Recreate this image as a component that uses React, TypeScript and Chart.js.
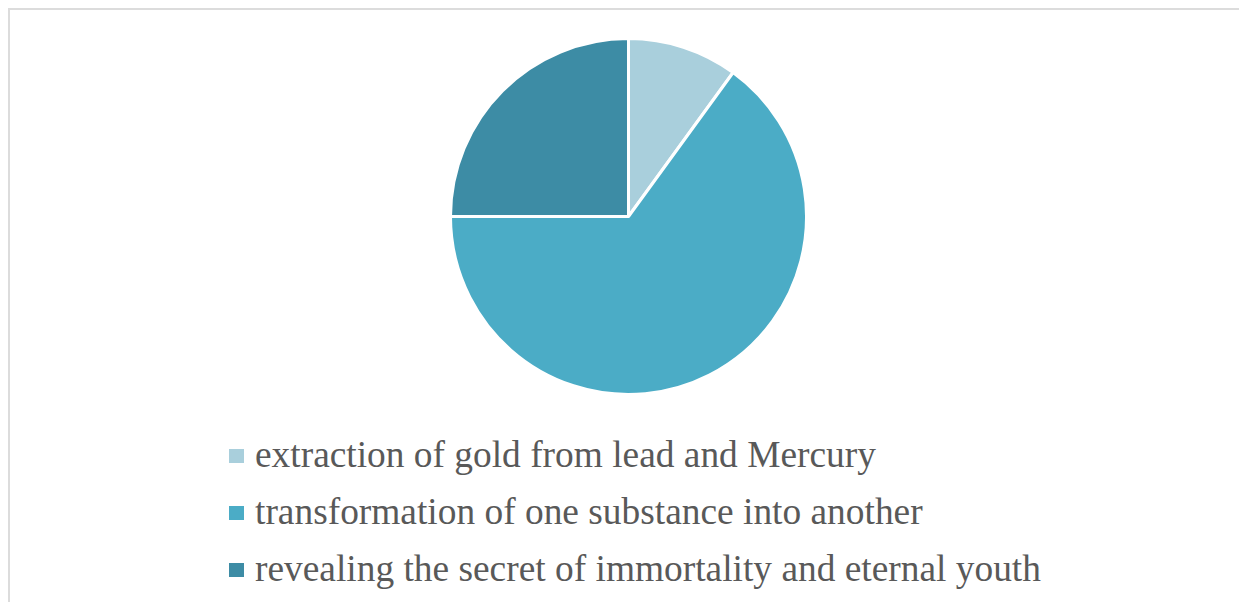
import React, { useEffect, useRef } from "react";
import { Chart, registerables } from "chart.js";

Chart.register(...registerables);

const categories = [
  "extraction of gold from lead and Mercury",
  "transformation of one substance into another",
  "revealing the secret of immortality and eternal youth",
];
const values = [10, 65, 25];
const colors = ["#A9CFDC", "#4BACC6", "#3D8CA5"];

export default function App() {
  const ref = useRef<HTMLCanvasElement | null>(null);

  useEffect(() => {
    document.body.style.margin = "0";
    document.body.style.overflow = "hidden";
    if (!ref.current) return;
    const chart = new Chart(ref.current, {
      type: "pie",
      data: {
        labels: categories,
        datasets: [
          {
            data: values,
            backgroundColor: colors,
            borderColor: "#ffffff",
            borderWidth: 3,
          },
        ],
      },
      options: {
        animation: false,
        responsive: false,
        maintainAspectRatio: false,
        layout: { padding: 0 },
        plugins: {
          legend: { display: false },
          tooltip: { enabled: false },
        },
      },
    });
    return () => chart.destroy();
  }, []);

  return (
    <div
      style={{
        position: "fixed",
        left: 0,
        top: 0,
        width: 1239,
        height: 602,
        overflow: "hidden",
        background: "#fff",
      }}
    >
      <div
        style={{
          position: "absolute",
          left: 8,
          top: 8,
          width: 1300,
          height: 700,
          border: "2px solid #dcdcdc",
          boxSizing: "border-box",
        }}
      />
      <canvas
        ref={ref}
        width={359}
        height={359}
        style={{ position: "absolute", left: 449, top: 37, width: 359, height: 359 }}
      />
      {categories.map((c, i) => (
        <div
          key={c}
          style={{
            position: "absolute",
            left: 229,
            top: 430 + i * 57,
            height: 50,
            display: "flex",
            alignItems: "center",
            whiteSpace: "nowrap",
          }}
        >
          <span
            style={{
              display: "inline-block",
              width: 15,
              height: 14,
              background: colors[i],
              marginRight: 11,
              position: "relative",
              top: 1,
            }}
          />
          <span
            style={{
              fontFamily: "'Liberation Serif', 'Times New Roman', Times, serif",
              fontSize: 37.4,
              color: "#595959",
              lineHeight: "50px",
            }}
          >
            {c}
          </span>
        </div>
      ))}
    </div>
  );
}
